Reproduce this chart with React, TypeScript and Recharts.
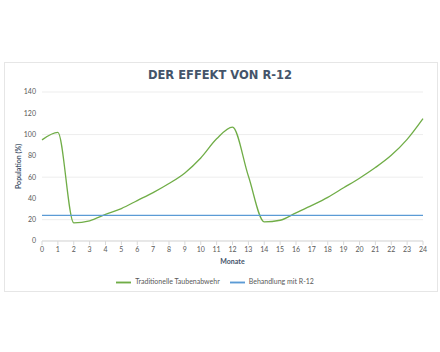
import React from "react";
import {
  LineChart,
  Line,
  XAxis,
  YAxis,
  CartesianGrid,
  Legend,
} from "recharts";

const months = [0, 1, 2, 3, 4, 5, 6, 7, 8, 9, 10, 11, 12, 13, 14, 15, 16, 17, 18, 19, 20, 21, 22, 23, 24];
const traditional = [95, 102, 17, 19, 25, 30.5, 38, 45.5, 54, 64, 78, 96, 107, 61, 18, 19.5, 26.5, 33.5, 41, 50, 59, 69, 80.5, 95.5, 115];
const r12 = [24, 24, 24, 24, 24, 24, 24, 24, 24, 24, 24, 24, 24, 24, 24, 24, 24, 24, 24, 24, 24, 24, 24, 24, 24];
const yTicks = [0, 20, 40, 60, 80, 100, 120, 140];
const seriesOrder = ["traditional", "r12"];

const chartData = months.map((m, i) => ({
  month: m,
  traditional: traditional[i],
  r12: r12[i],
}));

const FONT = "Lato, 'Open Sans', sans-serif";
const TICK = { fill: "#595959", fontSize: 7, fontFamily: FONT };

export default function App() {
  return (
    <div style={{ position: "absolute", left: 0, top: 0, width: 440, height: 352, background: "#fff" }}>
      <div
        style={{
          position: "absolute",
          left: 4,
          top: 62,
          width: 432,
          height: 228,
          border: "1px solid #e6e6e6",
        }}
      />
      <div
        style={{
          position: "absolute",
          left: 0,
          top: 67,
          width: 440,
          textAlign: "center",
          fontFamily: "'DejaVu Sans', sans-serif",
          fontWeight: 700,
          fontSize: 11.5,
          lineHeight: "16px",
          color: "#44546a",
        }}
      >
        DER EFFEKT VON R-12
      </div>
      <div style={{ position: "absolute", left: 0, top: 0 }}>
        <LineChart
          width={440}
          height={352}
          data={chartData}
          margin={{ top: 92, right: 17, bottom: 86, left: 12 }}
        >
          <CartesianGrid vertical={false} stroke="#ededed" />
          <XAxis
            dataKey="month"
            type="number"
            domain={[0, 24]}
            ticks={months}
            interval={0}
            height={25}
            tick={TICK}
            tickSize={4}
            tickMargin={2}
            stroke="#d9d9d9"
            label={{
              value: "Monate",
              position: "insideBottom",
              offset: 2,
              style: { fill: "#44546a", fontSize: 7, fontWeight: 700, fontFamily: FONT },
            }}
          />
          <YAxis
            domain={[0, 140]}
            ticks={yTicks}
            width={30}
            tick={TICK}
            tickSize={4}
            tickMargin={2}
            axisLine={false}
            tickLine={false}
            label={{
              value: "Population (%)",
              angle: -90,
              position: "insideLeft",
              offset: 7,
              style: { textAnchor: "middle", fill: "#44546a", fontSize: 7, fontWeight: 700, fontFamily: FONT },
            }}
          />
          <Legend
            verticalAlign="middle"
            align="center"
            iconType="plainline"
            iconSize={15}
            itemSorter={(item) => seriesOrder.indexOf(String(item.dataKey))}
            wrapperStyle={{ top: 275, left: 0, width: 440, fontSize: 7, fontFamily: FONT }}
            formatter={(value) => <span style={{ color: "#595959" }}>{value}</span>}
          />
          <Line
            type="monotone"
            dataKey="traditional"
            name="Traditionelle Taubenabwehr"
            stroke="#70ad47"
            strokeWidth={1.3}
            dot={false}
            isAnimationActive={false}
          />
          <Line
            type="monotone"
            dataKey="r12"
            name="Behandlung mit R-12"
            stroke="#5b9bd5"
            strokeWidth={1.3}
            dot={false}
            isAnimationActive={false}
          />
        </LineChart>
      </div>
    </div>
  );
}
